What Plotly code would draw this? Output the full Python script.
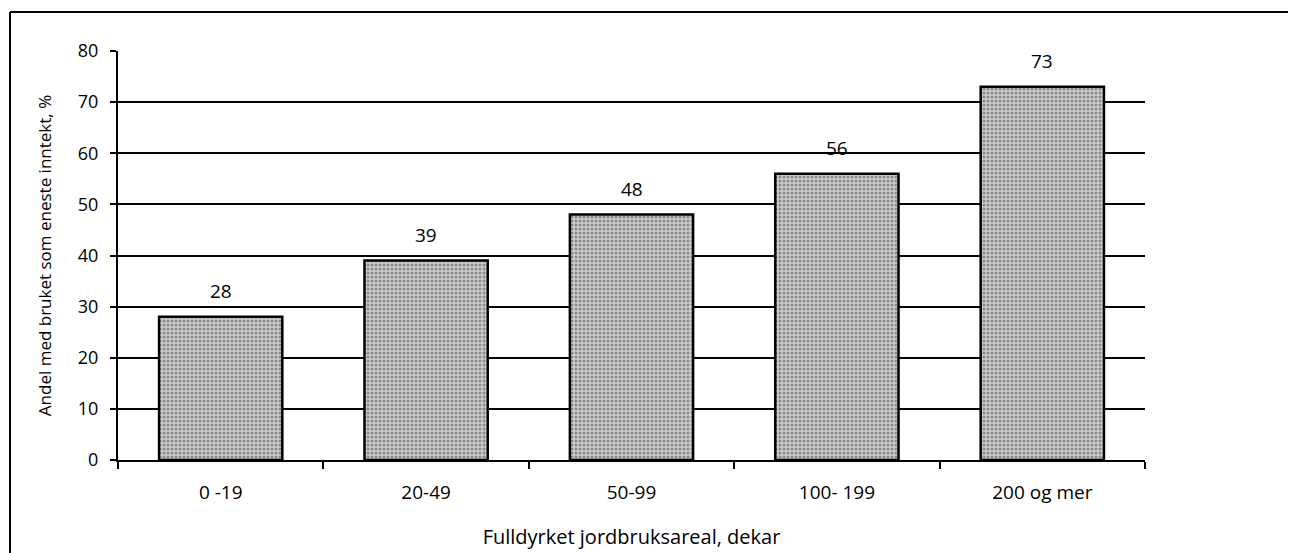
import plotly.graph_objects as go

categories = ["0 -19", "20-49", "50-99", "100- 199", "200 og mer"]
values = [28, 39, 48, 56, 73]
y_ticks = [0, 10, 20, 30, 40, 50, 60, 70, 80]

FONT = "Open Sans"

# plot area in figure pixels (page is offset by the 8px body margin)
L, R, T, B = 110, 1137, 43, 452
W, H = R - L, B - T

fig = go.Figure()
fig.add_trace(go.Bar(
    x=categories, y=values,
    marker=dict(
        color="#c4c4c4",
        line=dict(color="black", width=2.5),
        pattern=dict(shape=".", fgcolor="#4a4a4a", bgcolor="#cdcdcd", size=4, solidity=0.45),
    ),
    width=0.6,
    hoverinfo="skip",
))

for c, v in zip(categories, values):
    fig.add_annotation(x=c, y=v, text=str(v), showarrow=False, yshift=26,
                       font=dict(family=FONT, size=19, color="black"))

fig.update_layout(
    width=1296, height=553,
    margin=dict(l=L, r=1296 - R, t=T, b=553 - B, autoexpand=False),
    plot_bgcolor="white", paper_bgcolor="white",
    showlegend=False,
    font=dict(family=FONT, size=18, color="black"),
    bargap=0.4,
)
fig.update_xaxes(
    showline=True, linecolor="black", linewidth=2,
    ticks="outside", tickson="boundaries", ticklen=7, tickwidth=2, tickcolor="black",
    showgrid=False,
    tickfont=dict(family=FONT, size=19),
    ticklabelstandoff=14,
    title=dict(text="Fulldyrket jordbruksareal, dekar", font=dict(family=FONT, size=20), standoff=26),
)
fig.update_yaxes(
    range=[0, 80], tickvals=y_ticks,
    showline=True, linecolor="black", linewidth=2,
    ticks="outside", ticklen=6, tickwidth=2, tickcolor="black",
    showgrid=True, gridcolor="black", gridwidth=2,
    zeroline=False,
    tickfont=dict(family=FONT, size=18),
    ticklabelstandoff=8,
    title=dict(text="Andel med bruket som eneste inntekt, %", font=dict(family=FONT, size=17), standoff=22),
)

# outer frame lines (left and top)
fx = (2 - L) / W
fy = (B - 4) / H
fig.add_shape(type="line", xref="paper", yref="paper",
              x0=fx, x1=fx, y0=fy, y1=(B - 600) / H,
              line=dict(color="black", width=2))
fig.add_shape(type="line", xref="paper", yref="paper",
              x0=fx, x1=(1320 - L) / W, y0=fy, y1=fy,
              line=dict(color="black", width=2))

fig.write_html("out.html")
